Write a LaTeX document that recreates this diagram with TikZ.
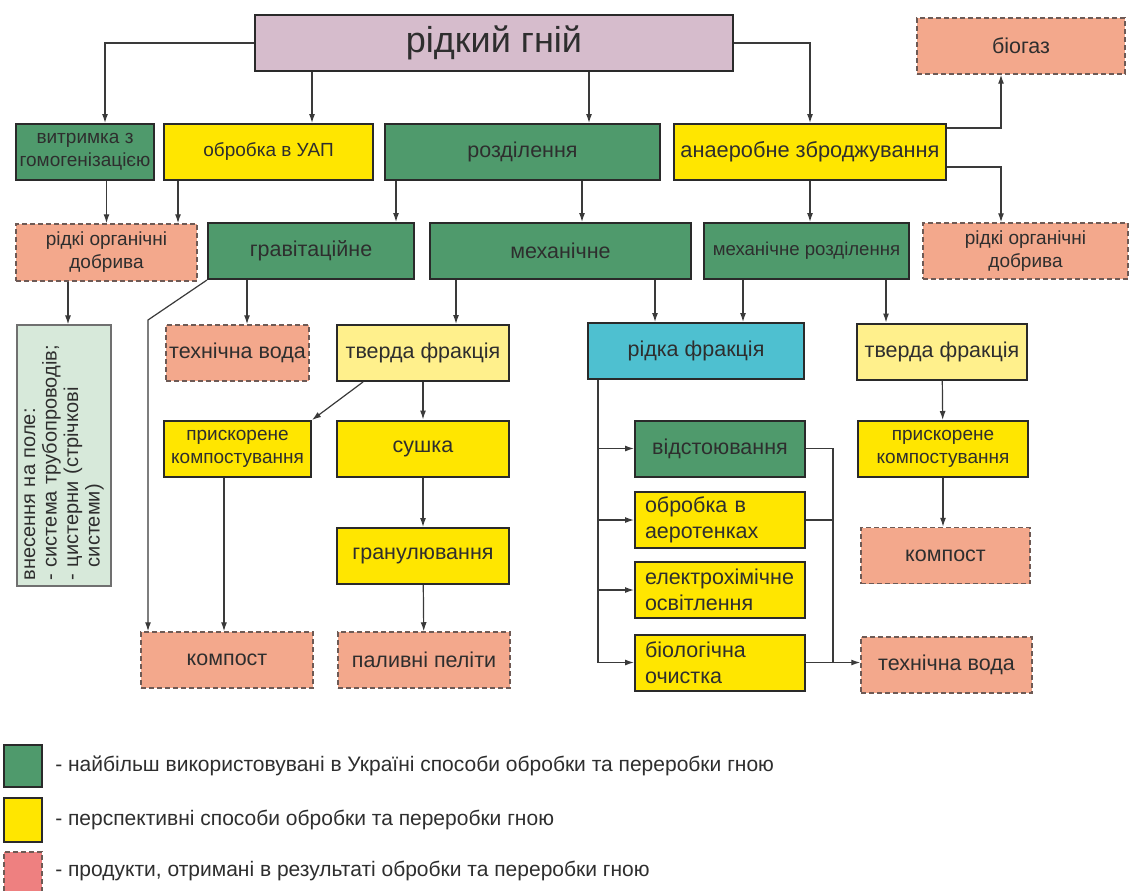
\documentclass[tikz,border=0pt]{standalone}
\usepackage{fontspec}
\setmainfont{Liberation Sans}
\usetikzlibrary{arrows.meta,positioning,calc}
\definecolor{TextGrey}{HTML}{2E2E2E}
\definecolor{BoxLine}{HTML}{2A2A2A}
\definecolor{LineGrey}{HTML}{3A3A3A}
\definecolor{ManureLilac}{HTML}{D6BCCC}
\definecolor{MethodGreen}{HTML}{4F9A6C}
\definecolor{FutureYellow}{HTML}{FFE600}
\definecolor{SolidYellow}{HTML}{FFF08C}
\definecolor{LiquidCyan}{HTML}{4EC0D0}
\definecolor{ProductSalmon}{HTML}{F3A88C}
\definecolor{ProductLine}{HTML}{6E5A55}
\definecolor{KeyPink}{HTML}{EE8080}
\definecolor{FieldGreen}{HTML}{D7E9DA}
\definecolor{FieldLine}{HTML}{707070}

\begin{document}
\begin{tikzpicture}[x=1pt,y=-1pt,
        every node/.style={font=\fontsize{21.5}{26}\selectfont,text=TextGrey},
        box/.style={draw=BoxLine,line width=2pt,minimum height=56pt,inner sep=2pt,align=center},
        method/.style={box,fill=MethodGreen},
        future/.style={box,fill=FutureYellow},
        solid/.style={box,fill=SolidYellow},
        product/.style={box,fill=ProductSalmon,draw=ProductLine,line width=1.5pt,dash pattern=on 5pt off 3pt},
        small/.style={font=\fontsize{19}{23}\selectfont},
        arr/.style={-{Latex[length=9pt,width=6pt]},draw=LineGrey,line width=1.2pt},
        link/.style={draw=LineGrey,line width=1.2pt}
      ]
        \useasboundingbox[fill=white] (0,0) rectangle (1144,891);
        % top rows
        \node[box,fill=ManureLilac,minimum width=478,font=\fontsize{36}{40}\selectfont] (manure) at (494,43) {рідкий гній};
        \node[method,small,minimum width=138] (hold) at (85,152) {витримка з\\гомогенізацією};
        \node[future,small,minimum width=209] (uap) at (268.5,152) {обробка в УАП};
        \node[method,minimum width=275] (sep) at (522.5,152) {розділення};
        \node[future,minimum width=272,font=\fontsize{21.8}{24}\selectfont] (anaer) at (810,152) {анаеробне зброджування};
        \node[product,minimum width=208] (biogas) at (1021,46) {біогаз};
        \node[product,small,minimum width=181,minimum height=57] (fertL) at (106.5,252.5) {рідкі органічні\\добрива};
        \node[method,minimum width=206] (grav) at (311,251) {гравітаційне};
        \node[method,minimum width=261] (mech) at (560.5,251) {механічне};
        \node[method,minimum width=205,font=\fontsize{18.6}{21}\selectfont] (mechsep) at (806.5,251) {механічне розділення};
        \node[product,small,minimum width=205] (fertR) at (1025.5,251) {рідкі органічні\\добрива};
        % fractions
        \node[box,fill=FieldGreen,draw=FieldLine,line width=1.2pt,rotate=90,minimum width=261,minimum height=94,
              text width=250,align=left,font=\fontsize{20}{21.5}\selectfont] (field) at (64,455.5)
              {внесення на поле:\\- система трубопроводів;\\- цистерни (стрічкові\\\phantom{- }системи)};
        \node[product,minimum width=143] (waterL) at (237.5,353) {технічна вода};
        \node[solid,minimum width=172] (solidM) at (423,353) {тверда фракція};
        \node[box,fill=LiquidCyan,minimum width=216] (liquid) at (696,351) {рідка фракція};
        \node[solid,minimum width=170] (solidR) at (942,351.5) {тверда фракція};
        % treatment
        \node[future,small,minimum width=147] (compL) at (237.5,449) {прискорене\\компостування};
        \node[future,minimum width=172] (dry) at (423,448.5) {сушка};
        \node[future,minimum width=172] (gran) at (423,556) {гранулювання};
        \node[method,minimum width=170] (settle) at (720,448.5) {відстоювання};
        \node[future,minimum width=170,text width=150,align=left] (aero) at (720,520) {обробка в\\аеротенках};
        \node[future,minimum width=170,text width=150,align=left] (electro) at (720,590) {електрохімічне\\освітлення};
        \node[future,minimum width=170,text width=150,align=left] (bio) at (720,662.5) {біологічна\\очистка};
        \node[future,small,minimum width=170] (compR) at (943,449) {прискорене\\компостування};
        % products
        \node[product,minimum width=172] (compostL) at (227,660) {компост};
        \node[product,minimum width=172] (pellets) at (424,660) {паливні пеліти};
        \node[product,minimum width=169] (compostR) at (945.5,555.5) {компост};
        \node[product,minimum width=171] (waterR) at (946.5,665) {технічна вода};

        % connectors from the manure
        \draw[arr] (manure.west) -| ([xshift=20pt]hold.north);
        \draw[arr] ([xshift=43.5pt]uap.north |- manure.south) -- ([xshift=43.5pt]uap.north);
        \draw[arr] ([xshift=66.5pt]sep.north |- manure.south) -- ([xshift=66.5pt]sep.north);
        \draw[arr] (manure.east) -| (anaer.north);
        \draw[arr] ([yshift=24pt]anaer.east) -| ([xshift=-20pt]biogas.south);
        \draw[arr] ([yshift=-15pt]anaer.east) -| ([xshift=-24.5pt]fertR.north);
        \draw[arr] (anaer.south) -- (anaer.south |- mechsep.north);
        \draw[arr] (fertL.north |- hold.south) -- (fertL.north);
        \draw[arr] ([xshift=71.5pt]fertL.north |- uap.south) -- ([xshift=71.5pt]fertL.north);
        \draw[arr] ([xshift=85pt]grav.north |- sep.south) -- ([xshift=85pt]grav.north);
        \draw[arr] ([xshift=21.5pt]mech.north |- sep.south) -- ([xshift=21.5pt]mech.north);
        \draw[arr] ([xshift=-38.5pt]fertL.south) -- ([xshift=-38.5pt]fertL.south |- field.east);
        % gravitational branch
        \coordinate (bend) at (148,320);
        \draw[arr] (grav.south west) -- (bend) -- (bend |- compostL.north);
        \draw[arr] ([xshift=-64pt]grav.south) -- ([xshift=-64pt]grav.south |- waterL.north);
        % mechanical branches
        \draw[arr] ([xshift=-104.5pt]mech.south) -- ([xshift=-104.5pt]mech.south |- solidM.north);
        \draw[arr] ([xshift=94.5pt]mech.south) -- ([xshift=94.5pt]mech.south |- liquid.north);
        \draw[arr] ([xshift=-63.5pt]mechsep.south) -- ([xshift=-63.5pt]mechsep.south |- liquid.north);
        \draw[arr] ([xshift=79.5pt]mechsep.south) -- ([xshift=79.5pt]mechsep.south |- solidR.north);
        \draw[arr] (solidM) -- (dry);
        \draw[arr] ([xshift=-60pt]solidM.south) -- (compL.north east);
        \draw[arr] ([xshift=-13.5pt]compL.south) -- ([xshift=-13.5pt]compL.south |- compostL.north);
        \draw[arr] (dry) -- (gran);
        \draw[arr] (gran) -- (pellets);
        \draw[arr] (solidR) -- (compR);
        \draw[arr] (compR.south) -- (compR.south |- compostR.north);
        % liquid fraction
        \coordinate (trunk) at ([xshift=11pt]liquid.south west);
        \draw[link] (trunk) -- (trunk |- bio.west);
        \foreach \n in {settle,aero,electro,bio}
          \draw[arr] (trunk |- \n.west) -- (\n.west);
        \coordinate (merge) at ([xshift=27pt]settle.east);
        \draw[link] (settle.east) -- (merge) -- (merge |- bio.east);
        \draw[link] (aero.east) -- (merge |- aero.east);
        \draw[arr] (bio.east) -- (bio.east -| waterR.west);

        % key
        \node[method,line width=1.5pt,minimum width=38,minimum height=42] (keyA) at (23,766) {};
        \node[future,line width=1.5pt,minimum width=38,minimum height=44] (keyB) at (23,820) {};
        \node[product,fill=KeyPink,minimum width=38,minimum height=42] (keyC) at (23,873) {};
        \node[right=9pt of keyA,font=\fontsize{21}{24}\selectfont] (keyAtext) {- найбільш використовувані в Україні способи обробки та переробки гною};
        \node[right=9pt of keyB,font=\fontsize{21}{24}\selectfont] (keyBtext) {- перспективні способи обробки та переробки гною};
        \node[right=9pt of keyC,font=\fontsize{21}{24}\selectfont,yshift=2pt] (keyCtext) {- продукти, отримані в результаті обробки та переробки гною};
      \end{tikzpicture}
\end{document}
